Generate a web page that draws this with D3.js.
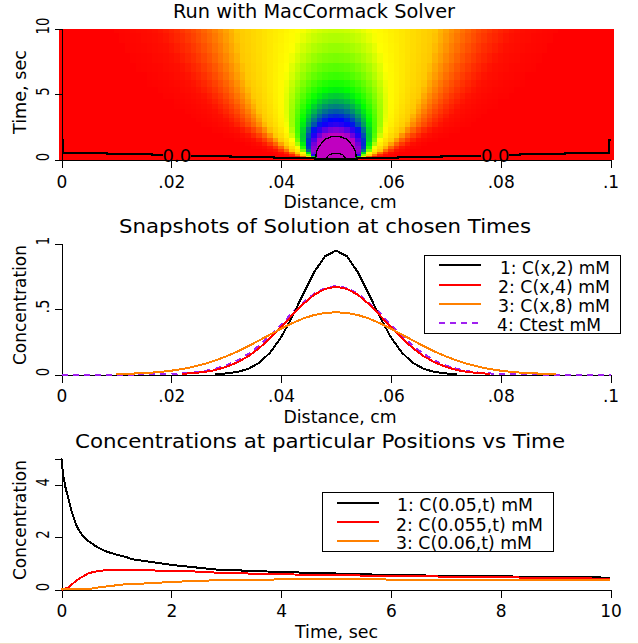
<!DOCTYPE html>
<html><head><meta charset="utf-8">
<script src="https://cdn.jsdelivr.net/npm/d3@7/dist/d3.min.js"></script>
<style>html,body{margin:0;background:#fff}svg{display:block}text{font-family:"DejaVu Sans";fill:#000}</style>
</head><body><svg id="c" width="638" height="644"></svg>
<script>
// ---------- heat map: concentration (x1000) at offset 0,1,2.. mesh nodes from the centre (x=.05), per time
const heatTimes=[10,9.25,8.5,7.75,7,6.4,5.8,5.3,4.8,4.4,4,3.65,3.3,3,2.7,2.2,1.8,1.45,1.15,.9,.7,.5,.35,.2,.1,0];
const heatRows=[
[445,444,441,435,428,418,407,394,380,364,347,330,312,293,274,254,236,217,199,181,165,149,134,120,107,94,83,73,64,55,48,41,35,30,25,21,18,15,12,10,8],
[463,462,458,452,444,433,420,406,390,373,354,335,315,295,274,253,233,213,194,176,158,142,126,112,99,87,75,66,56,49,42,35,30,25,21,18,14,12,10,8],
[483,482,477,470,461,449,435,419,401,382,361,340,317,295,273,251,229,208,188,169,151,133,118,103,90,78,67,57,49,42,35,29,24,20,16,14,11,9,7],
[505,503,499,491,480,466,450,432,412,390,367,343,319,294,270,246,223,200,179,160,141,124,108,93,80,69,58,49,41,34,28,23,19,16,12,10,8,6],
[531,529,524,515,502,486,468,447,424,399,373,346,319,292,266,240,215,191,169,148,129,112,96,82,70,58,49,40,33,27,22,18,14,11,9,7,5],
[555,553,547,536,522,504,483,460,433,406,377,348,319,289,260,233,206,181,159,138,118,101,85,72,60,49,41,33,27,22,17,13,11,8,6],
[583,581,573,561,544,524,500,473,444,413,381,349,316,284,253,224,196,170,147,125,106,89,74,61,50,41,33,26,21,16,13,10,8,6,4],
[610,607,599,585,566,543,516,486,453,418,383,348,312,278,245,214,185,159,135,114,95,79,64,52,42,34,26,21,16,12,9,7,5],
[640,637,627,611,589,563,532,498,461,423,383,344,306,269,234,202,172,145,122,101,83,66,54,42,33,26,20,15,11,9,6,5],
[668,664,653,635,611,581,546,508,468,425,382,340,299,260,223,190,160,133,110,89,72,57,45,35,27,20,15,11,8,6],
[700,696,683,662,635,601,561,518,472,425,379,333,289,249,210,176,146,119,96,76,60,47,36,27,20,15,11,8,6,4],
[732,727,712,689,657,619,575,527,477,425,374,325,279,236,196,162,131,105,83,65,50,38,29,21,15,11,8,5],
[769,763,746,719,683,639,589,535,478,422,367,314,265,220,180,145,115,91,70,53,40,29,22,15,11,8,5],
[806,799,780,749,708,658,601,541,479,417,358,301,250,204,164,129,101,77,58,43,31,23,16,11,7,5],
[848,840,818,782,734,677,613,545,477,409,344,285,232,185,145,112,85,63,46,33,23,16,11,8,5],
[936,926,896,848,785,711,630,547,463,385,312,248,192,146,109,79,56,39,26,18,11,7,5],
[1031,1017,977,914,833,739,638,536,439,351,272,205,151,108,75,52,34,22,13,8,5],
[1143,1125,1071,986,879,759,633,512,400,303,222,158,107,72,46,29,17,10,6],
[1275,1249,1176,1061,919,765,611,469,346,244,166,108,68,41,23,13,6],
[1428,1392,1289,1134,947,753,567,407,277,179,110,64,36,19,10,5],
[1601,1550,1407,1198,956,714,501,330,203,117,64,32,16,6],
[1857,1777,1560,1255,927,626,388,221,115,54,24,9],
[2156,2033,1703,1270,841,496,259,121,50,19,6],
[2673,2440,1858,1179,625,275,102,32,8],
[3330,2900,1910,953,360,103,23],
[5000,3660,1430,300,30]
];
const heatLevels=[0,.03,.2,.4,.6,.8,1];
const heatColors=["#ff0000","#ff1000","#ffc800","#ffff00","#00ff00","#0000ff","#c000c0"];
// ---------- contours [x, t]
const contourZeroA=[[0,1.46],[.0003,1.46],[.0003,.5],[.0083,.5],[.0083,.4],[.0165,.4],[.0165,.32],[.0185,.32]];
const contourZeroB=[[.0235,.25],[.0308,.25],[.0308,.19],[.0387,.19],[.0387,.1],[.0462,.1],[.0462,.02],[.0538,.02],[.0538,.1],[.0613,.1],[.0613,.19],[.0692,.19],[.0692,.25],[.0765,.25]];
const contourZeroC=[[.0815,.32],[.0835,.32],[.0835,.4],[.0917,.4],[.0917,.5],[.0997,.5],[.0997,1.46],[.1,1.46]];
const contourOne=[[.0463,.05],[.0464,.5],[.0468,.95],[.048,1.54],[.049,1.72],[.05,1.77],[.051,1.72],[.052,1.54],[.0532,.95],[.0536,.5],[.0537,.05]];
const contourTwo=[[.0482,.1],[.0488,.38],[.0494,.44],[.05,.47],[.0506,.44],[.0512,.38],[.0518,.1]];
const contourLabels=[[.021,"0.0"],[.079,"0.0"]];
// ---------- snapshots
const snapX=d3.range(51).map(i=>i*.002);
const snap2=[null,null,null,null,null,null,null,null,null,null,null,null,null,null,.003,.008,.019,.043,.089,.167,.284,.438,.613,.78,.902,.946,.902,.78,.613,.438,.284,.167,.089,.043,.019,.008,.003,null,null,null,null,null,null,null,null,null,null,null,null,null,null];
const snap4=[null,null,null,null,null,null,null,null,null,null,null,.005,.011,.019,.034,.058,.092,.139,.201,.277,.362,.452,.537,.608,.654,.67,.654,.608,.537,.452,.362,.277,.201,.139,.092,.058,.034,.019,.011,.005,null,null,null,null,null,null,null,null,null,null,null];
const snap8=[null,null,null,null,null,.003,.005,.009,.013,.02,.029,.042,.059,.08,.107,.138,.175,.216,.26,.305,.35,.391,.427,.454,.47,.475,.47,.454,.427,.391,.35,.305,.26,.216,.175,.138,.107,.08,.059,.042,.029,.02,.013,.009,.005,.003,null,null,null,null,null];
const snapTest=[0,0,0,0,0,0,0,0,.001,.002,.004,.008,.014,.025,.043,.069,.106,.156,.22,.297,.381,.468,.549,.616,.66,.675,.66,.616,.549,.468,.381,.297,.22,.156,.106,.069,.043,.025,.014,.008,.004,.002,.001,0,0,0,0,0,0,0,0];
// ---------- concentration vs time
const tBlack=[0,.03,.076,.125,.185,.28,.37,.49,.64,.79,.97,1.16,1.3,2,2.8,3.7,4.6,5.2,6,8,9.57,10];
const cBlack=[5,4.37,3.86,3.48,2.97,2.4,2.1,1.85,1.63,1.47,1.35,1.25,1.15,.94,.765,.69,.63,.6,.55,.5,.47,.45];
const tRed=[0,.02,.125,.28,.49,.67,.88,1.6,1.85,2.4,3,3.67,4.5,5.4,6.7,8.25,10];
const cRed=[0,0,.08,.36,.62,.71,.75,.74,.7,.69,.625,.6,.56,.535,.5,.46,.41];
const tOrange=[0,.49,.67,1.16,1.42,2.03,2.6,3.8,4.7,5.5,6.7,8,10];
const cOrange=[0,.01,.08,.2,.22,.29,.34,.38,.395,.39,.365,.355,.345];
// ---------- text and ticks
const titles=["Run with MacCormack Solver","Snapshots of Solution at chosen Times","Concentrations at particular Positions vs Time"];
const xLabels=["Distance, cm","Distance, cm","Time, sec"];
const yLabels=["Time, sec","Concentration","Concentration"];
const distTicks=[0,.02,.04,.06,.08,.1], distTickLabels=["0",".02",".04",".06",".08",".1"];
const timeTicks=[0,2,4,6,8,10];
const y1Ticks=[0,5,10], y2Ticks=[0,.5,1], y2TickLabels=["0",".5","1"], y3Ticks=[0,2,4];
const legend1=["1: C(x,2) mM","2: C(x,4) mM","3: C(x,8) mM","4: Ctest mM"];
const legend2=["1: C(0.05,t) mM","2: C(0.055,t) mM","3: C(0.06,t) mM"];
const BLACK="#000",RED="#ff0000",ORANGE="#ff8000",PURPLE="#a020f0";

const svg=d3.select("#c");
const L=61.5,R=610.5;
const xDist=d3.scaleLinear([0,.1],[L,R]);
const xTime=d3.scaleLinear([0,10],[L,R]);
const y1=d3.scaleLinear([0,10],[159.5,28.5]);
const y2=d3.scaleLinear([0,1],[374.5,243.5]);
const y3=d3.scaleLinear([0,5],[589.5,458.5]);
const heatColor=d3.scaleLinear(heatLevels,heatColors).interpolate(d3.interpolateRgb).clamp(true);

// heat map
const hg=svg.append("g").attr("shape-rendering","crispEdges");
const meshStep=.001;
heatRows.forEach((row,r)=>{
  const top=r===0?10:(heatTimes[r]+heatTimes[r-1])/2;
  const bot=r===heatRows.length-1?0:(heatTimes[r]+heatTimes[r+1])/2;
  d3.range(101).forEach(i=>{
    const v=(row[Math.abs(i-50)]??0)/1000;
    hg.append("rect")
      .attr("x",xDist((i-.5)*meshStep)).attr("width",xDist((i+.5)*meshStep)-xDist((i-.5)*meshStep)+.5)
      .attr("y",y1(top)).attr("height",y1(bot)-y1(top)+.5)
      .attr("fill",heatColor(v));
  });
});

function fit(sel,len){return sel.attr("textLength",len).attr("lengthAdjust","spacingAndGlyphs");}
function axes(i,x,y,xt,xl,yt,yl,tickBase,yLabelCenter,titleX,titleY,titleLen,xLabelX,xLabelY,xLabelLen,yLabelLen){
  const g=svg.append("g").attr("class","ax");
  const ax=d3.axisBottom(x).tickValues(xt).tickFormat((d,k)=>xl[k]).tickSize(8).tickPadding(7);
  const gx=g.append("g").attr("transform",`translate(0,${y.range()[0]})`).call(ax);
  const ay=d3.axisLeft(y).tickValues(yt).tickFormat((d,k)=>yl[k]).tickSize(7);
  const gy=g.append("g").attr("transform",`translate(${L},0)`).call(ay);
  gx.selectAll("text").attr("font-size",17).attr("font-family","DejaVu Sans").attr("fill","#000").attr("dy",null).attr("y",tickBase-y.range()[0]);
  gy.selectAll(".tick text").attr("font-size",17).attr("font-family","DejaVu Sans").attr("fill","#000")
    .attr("x",null).attr("dy",null).attr("text-anchor","middle")
    .attr("transform","translate(-12.5,-3) rotate(-90)")
    .each(function(d,k){
      const s=yl[k];
      const n=s.replace(".","").length, dots=s.length-n;
      fit(d3.select(this),n*8.5+dots*5.5);
    });
  g.selectAll("path.domain").attr("stroke","#000").attr("stroke-width",1).attr("shape-rendering","crispEdges");
  g.selectAll(".tick line").attr("stroke","#000").attr("stroke-width",1).attr("shape-rendering","crispEdges");
  fit(svg.append("text").text(titles[i]).attr("x",titleX).attr("y",titleY).attr("text-anchor","middle").attr("font-size",20),titleLen);
  fit(svg.append("text").text(xLabels[i]).attr("x",xLabelX).attr("y",xLabelY).attr("text-anchor","middle").attr("font-size",17.5),xLabelLen);
  fit(svg.append("text").text(yLabels[i]).attr("transform",`translate(26,${yLabelCenter}) rotate(-90)`).attr("text-anchor","middle").attr("font-size",17.5),yLabelLen);
}
axes(0,xDist,y1,distTicks,distTickLabels,y1Ticks,y1Ticks.map(String),187.5,92,314,18,282,340,208,113,84);
axes(1,xDist,y2,distTicks,distTickLabels,y2Ticks,y2TickLabels,402,305,325,233,412,340,423,113,120);
axes(2,xTime,y3,timeTicks,timeTicks.map(String),y3Ticks,y3Ticks.map(String),617,520,320,448,490,336.5,638,83,120);

// contours
const cLine=d3.line().x(d=>xDist(d[0])).y(d=>y1(d[1]));
[[contourZeroA,2.2],[contourZeroB,2.2],[contourZeroC,2.2],[contourOne,1.3],[contourTwo,1.3]].forEach(([d,w])=>{
  svg.append("path").attr("d",cLine(d)).attr("fill","none").attr("stroke","#000").attr("stroke-width",w).attr("shape-rendering","crispEdges");
});
contourLabels.forEach(([x,s])=>svg.append("text").text(s).attr("x",xDist(x)).attr("y",161.5).attr("text-anchor","middle").attr("font-size",18));

// series
function drawLine(xs,ys,x,y,color,dash){
  const ln=d3.line().defined(d=>d[1]!==null).x(d=>x(d[0])).y(d=>y(d[1]));
  const p=svg.append("path").attr("d",ln(xs.map((v,i)=>[v,ys[i]]))).attr("fill","none").attr("stroke",color).attr("stroke-width",2).attr("shape-rendering","crispEdges");
  if(dash)p.attr("stroke-dasharray",dash);
}
drawLine(snapX,snapTest,xDist,y2,PURPLE,"6,5");
drawLine(snapX,snap2,xDist,y2,BLACK);
drawLine(snapX,snap4,xDist,y2,RED);
drawLine(snapX,snap8,xDist,y2,ORANGE);
drawLine(tBlack,cBlack,xTime,y3,BLACK);
drawLine(tRed,cRed,xTime,y3,RED);
drawLine(tOrange,cOrange,xTime,y3,ORANGE);

// legends
function legend(box,rows,sx,ys,txs,tys,lens,colors,dashes){
  svg.append("rect").attr("x",box[0]).attr("y",box[1]).attr("width",box[2]).attr("height",box[3]).attr("fill","#fff").attr("stroke","#000").attr("stroke-width",1).attr("shape-rendering","crispEdges");
  rows.forEach((s,i)=>{
    const l=svg.append("line").attr("x1",sx[0]).attr("x2",sx[1]).attr("y1",ys[i]).attr("y2",ys[i]).attr("stroke",colors[i]).attr("stroke-width",2).attr("shape-rendering","crispEdges");
    if(dashes[i])l.attr("stroke-dasharray",dashes[i]);
    fit(svg.append("text").text(s).attr("x",txs[i]).attr("y",tys[i]).attr("font-size",17.3),lens[i]);
  });
}
legend([424.5,255.5,196,78],legend1,[439,481],[265,285,304,323],[500,498,498,497],[273.5,293,312,331],[110,112,112,104],[BLACK,RED,ORANGE,PURPLE],[null,null,null,"6,5"]);
legend([322.5,492.5,231,59],legend2,[337,379],[502.5,521.5,540.5],[397,396,396],[511,530.5,549],[136,147,136],[BLACK,RED,ORANGE],[null,null,null]);

// faint window edge at the very bottom
svg.append("rect").attr("x",0).attr("y",643).attr("width",638).attr("height",1).attr("fill","#f3dcc6");
</script></body></html>
